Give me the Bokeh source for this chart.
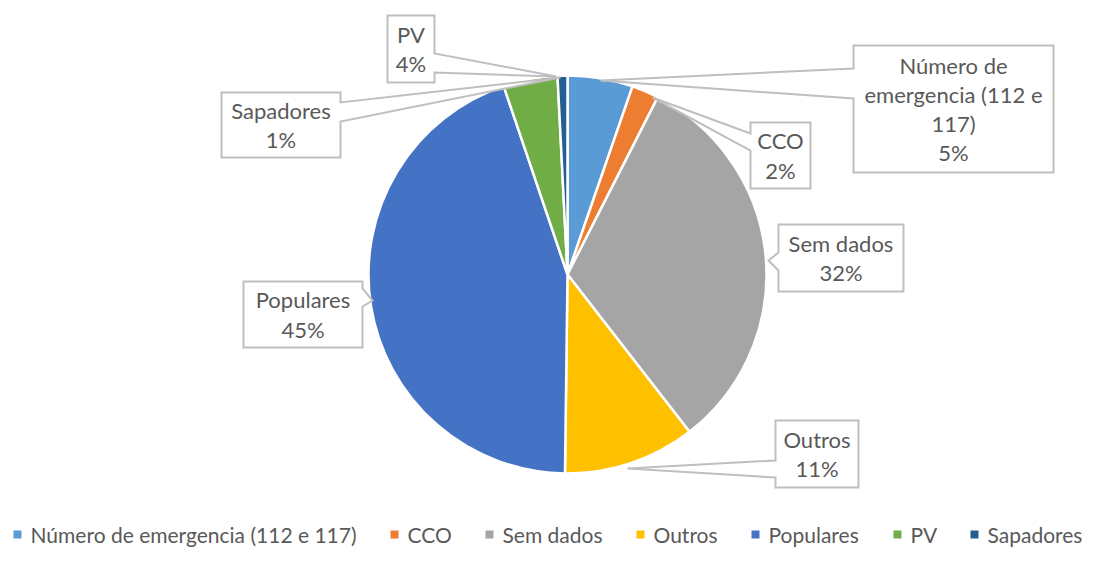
import math
from bokeh.plotting import figure
from bokeh.models import Range1d
from bokeh.embed import file_html
from bokeh.resources import INLINE
from bokeh.core.properties import value

# ---- data ----
categories = ["Número de emergencia (112 e 117)", "CCO", "Sem dados", "Outros",
              "Populares", "PV", "Sapadores"]
shares = [5.3, 2.2, 32.0, 10.7, 44.6, 4.4, 0.8]
colors = ["#5B9BD5", "#ED7D31", "#A5A5A5", "#FFC000", "#4472C4", "#70AD47", "#255E91"]
callout_lines = [["Número de", "emergencia (112 e", "117)"], ["CCO"], ["Sem dados"],
                 ["Outros"], ["Populares"], ["PV"], ["Sapadores"]]

FONT = "Lato"
TXT = "#595959"
BOX = "#BFBFBF"

W, H = 1098, 552
p = figure(width=W, height=H, output_backend="svg", toolbar_location=None,
           x_range=Range1d(0, W), y_range=Range1d(0, H), min_border=0)
p.axis.visible = False
p.grid.visible = False
p.outline_line_color = None
p.background_fill_color = "white"
p.border_fill_color = "white"


def Y(py):
    return H - py


# ---- pie ----
cx, cy, r = 567, Y(274), 199
total = sum(shares)
cum = 0.0
starts, ends = [], []
for s in shares:
    a0 = math.pi / 2 - 2 * math.pi * cum / total
    cum += s
    a1 = math.pi / 2 - 2 * math.pi * cum / total
    starts.append(a0)
    ends.append(a1)
p.wedge(x=[cx] * len(shares), y=[cy] * len(shares), radius=r,
        start_angle=starts, end_angle=ends, direction="clock",
        fill_color=colors, line_color="white", line_width=2.5)

# ---- callouts (layout geometry in screen px) ----
geo = [
    dict(box=(853, 45, 1053, 172), side="left", b=(68, 98), tip=(600, 80)),
    dict(box=(750, 122, 810, 188), side="left", b=(133, 150), tip=(652, 97)),
    dict(box=(778, 224, 903, 291), side="left", b=(252, 270), tip=(768, 260)),
    dict(box=(775, 420, 858, 487), side="left", b=(460, 477), tip=(627, 468)),
    dict(box=(243, 281, 362, 347), side="right", b=(288, 306), tip=(372, 300)),
    dict(box=(387, 15, 434, 82), side="right", b=(53, 72), tip=(556, 76)),
    dict(box=(221, 92, 340, 157), side="right", b=(102, 121), tip=(560, 77)),
]

polys_x, polys_y = [], []
for g in geo:
    x0, y0, x1, y1 = g["box"]
    b1, b2 = g["b"]
    tx, ty = g["tip"]
    if g["side"] == "left":
        pts = [(x0, y0), (x1, y0), (x1, y1), (x0, y1), (x0, b2), (tx, ty), (x0, b1)]
    else:
        pts = [(x0, y0), (x1, y0), (x1, b1), (tx, ty), (x1, b2), (x1, y1), (x0, y1)]
    polys_x.append([q[0] for q in pts])
    polys_y.append([Y(q[1]) for q in pts])

p.patches(polys_x, polys_y, fill_color="white", line_color=None)
p.patches(polys_x, polys_y, fill_color=None, line_color=BOX, line_width=2,
          line_join="miter")

tx_, ty_, tt_ = [], [], []
for g, lines, s in zip(geo, callout_lines, shares):
    x0, y0, x1, y1 = g["box"]
    allines = lines + [f"{round(s)}%"]
    n = len(allines)
    mid = (y0 + y1) / 2
    step = 29.3
    for i, t in enumerate(allines):
        tx_.append((x0 + x1) / 2)
        ty_.append(Y(mid + (i - (n - 1) / 2) * step))
        tt_.append(t)
p.text(x=tx_, y=ty_, text=tt_, text_align="center", text_baseline="middle",
       text_font=value(FONT), text_font_size="22px", text_color=TXT)

# ---- legend ----
sq_x = [17, 394, 489, 640, 755, 897, 974]
ly = Y(534)
p.rect(x=sq_x, y=[ly] * 7, width=8, height=8, fill_color=colors, line_color=None)
p.text(x=[x + 13 for x in sq_x], y=[ly] * 7, text=categories, text_align="left",
       text_baseline="middle", text_font=value(FONT), text_font_size="21px",
       text_color=TXT)

open("out.html", "w").write(file_html(p, INLINE))
